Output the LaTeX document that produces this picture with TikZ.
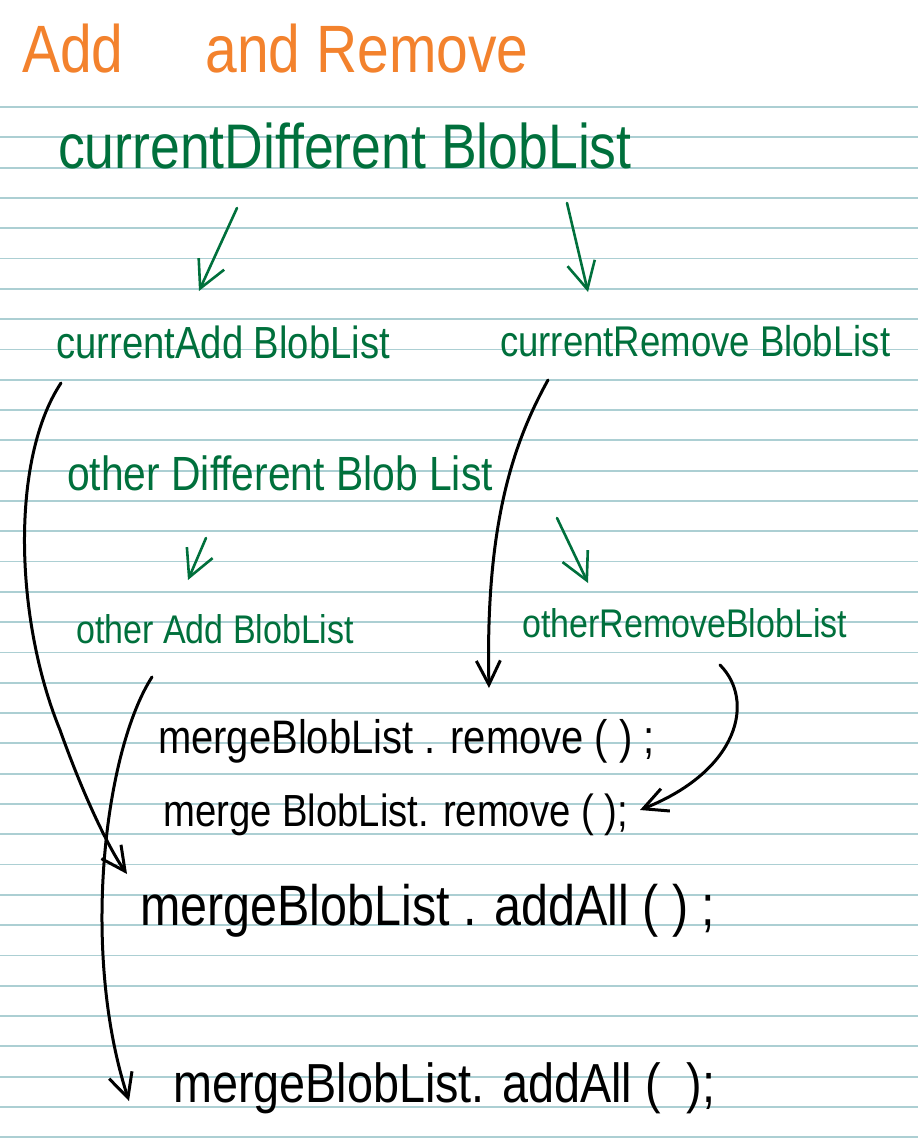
\documentclass[tikz,border=0pt]{standalone}
\usepackage{fontspec}
\newfontfamily\handfont{Liberation Sans}[FakeStretch=0.85]
\usetikzlibrary{arrows.meta}
\definecolor{inkgreen}{RGB}{0,112,60}
\definecolor{inkorange}{RGB}{243,130,45}
\definecolor{rulecolor}{RGB}{172,207,211}
\tikzset{
	handtext/.style={font=\handfont\fontsize{#1}{#1}\selectfont, inner sep=0pt, anchor=base west},
	ruleline/.style={draw=rulecolor, line width=1.8pt},
	greenflow/.style={draw=inkgreen, line width=2.6pt, line cap=round, line join=round,
		-{Straight Barb[length=27pt,width=28pt]}},
	blackflow/.style={draw=black, line width=3pt, line cap=round, line join=round,
		-{Straight Barb[length=24pt,width=24pt]}}
}

\begin{document}
\begin{tikzpicture}[x=1pt,y=-1pt]
				\useasboundingbox[fill=white] (0,0) rectangle (918,1140);
				% ruled paper
				\foreach \k in {0,...,34}
					\draw[ruleline] (0,{107+30.3*\k}) -- (918,{107+30.3*\k});
				
				\node[handtext=67, text=inkorange] (title) at (22,72) {Add\hspace{82pt}and Remove};
				
				\node[handtext=63, text=inkgreen] (curDiff) at (58,168) {currentDifferent BlobList};
				\node[handtext=45, text=inkgreen] (curAdd) at (56,358) {currentAdd BlobList};
				\node[handtext=43, text=inkgreen] (curRemove) at (500,356) {currentRemove BlobList};
				\node[handtext=48, text=inkgreen] (otherDiff) at (67,490) {other Different Blob List};
				\node[handtext=40, text=inkgreen] (otherAdd) at (76,643) {other Add BlobList};
				\node[handtext=40, text=inkgreen] (otherRemove) at (522,637) {otherRemoveBlobList};
				
				\node[handtext=47] (mergeRemA) at (158,753) {mergeBlobList . remove ( ) ;};
				\node[handtext=45] (mergeRemB) at (163,826) {merge BlobList. remove ( );};
				\node[handtext=57] (mergeAddA) at (140,925) {mergeBlobList . addAll ( ) ;};
				\node[handtext=55] (mergeAddB) at (173,1102) {mergeBlobList. addAll (~~);};
				
				% split into add / remove
				\draw[greenflow] ([shift={(179,40)}]curDiff.base west) -- ([shift={(143,-67)}]curAdd.base west);
				\draw[greenflow] ([shift={(509,35)}]curDiff.base west) -- ([shift={(88,-64)}]curRemove.base west);
				\draw[greenflow] ([shift={(139,48)}]otherDiff.base west) -- ([shift={(112,-63)}]otherAdd.base west);
				\draw[greenflow] ([shift={(490,28)}]otherDiff.base west) -- ([shift={(66,-54)}]otherRemove.base west);
				
				% into the merge list
				\draw[blackflow] ([shift={(5,25)}]curAdd.base west) .. controls (10,460) and (15,620) .. (60,730)
					.. controls (85,800) and (110,850) .. ([shift={(-13,-51)}]mergeAddA.base west);
				\draw[blackflow] ([shift={(48,24)}]curRemove.base west) .. controls (515,440) and (485,520)
					.. ([shift={(331,-65)}]mergeRemA.base west);
				\draw[blackflow] ([shift={(76,34)}]otherAdd.base west) .. controls (105,750) and (80,950)
					.. ([shift={(-44,-1)}]mergeAddB.base west);
				\draw[blackflow] ([shift={(198,28)}]otherRemove.base west) .. controls (755,700) and (740,770)
					.. ([shift={(477,-16)}]mergeRemB.base west);
			\end{tikzpicture}
\end{document}
